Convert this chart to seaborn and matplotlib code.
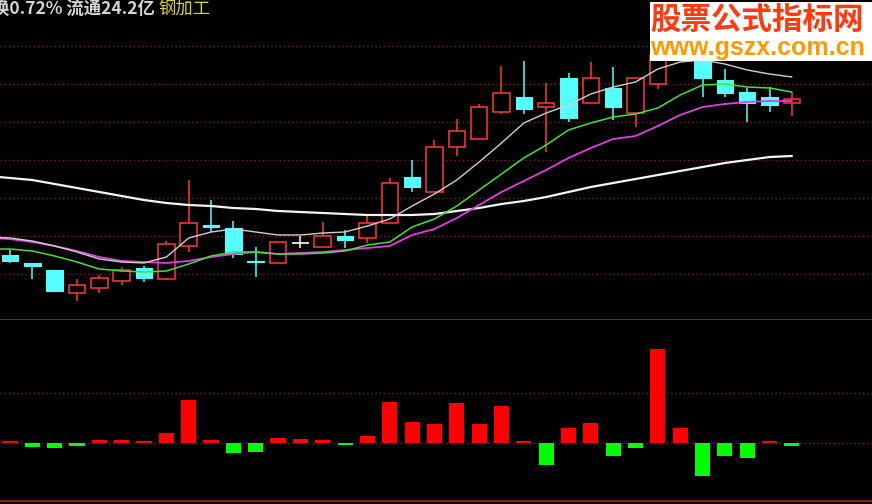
import numpy as np
import pandas as pd
import matplotlib
matplotlib.use("Agg")
import matplotlib.pyplot as plt
from matplotlib.patches import Rectangle
import seaborn as sns

# ---------------- data ----------------
opens  = [7.5, 6.7, 6.0, 3.7, 4.2, 4.9, 6.2, 5.1, 8.4, 10.5, 10.2, 6.9, 6.7, 8.7, 8.3, 9.4, 9.2, 10.7,
          15.3, 13.8, 18.3, 19.1, 21.8, 23.3, 22.3, 25.2, 22.7, 24.2, 21.7, 24.6, 27.2, 27.2, 25.0, 23.8, 23.3, 22.7]
closes = [6.9, 6.4, 3.9, 4.5, 5.2, 6.0, 5.2, 8.6, 10.7, 10.3, 7.6, 6.8, 8.8, 8.7, 9.4, 9.0, 10.7, 14.7,
          14.3, 18.3, 19.9, 22.3, 23.7, 22.1, 22.7, 21.2, 25.2, 22.3, 25.2, 27.5, 29.0, 25.2, 23.7, 22.7, 22.5, 23.1]
highs  = [8.0, 6.7, 6.0, 5.1, 5.5, 6.3, 6.4, 8.9, 15.0, 13.0, 10.9, 8.3, 8.8, 9.4, 10.8, 10.0, 11.6, 15.2,
          17.0, 19.0, 21.1, 22.6, 26.4, 26.9, 24.7, 25.7, 26.8, 26.3, 25.2, 28.5, 30.0, 27.8, 26.1, 24.2, 24.3, 23.8]
lows   = [6.7, 5.1, 3.8, 2.9, 3.7, 4.5, 4.8, 5.0, 7.8, 9.8, 7.2, 5.3, 6.7, 8.2, 8.3, 8.2, 8.7, 10.7,
          13.8, 13.8, 17.4, 19.1, 21.6, 21.6, 17.8, 20.8, 22.7, 21.0, 20.3, 24.1, 27.0, 23.3, 23.3, 20.8, 21.8, 21.4]

# moving averages, first point is the day before the first visible candle
ma5  = [9.3, 9.2, 8.9, 8.4, 7.8, 7.1, 6.8, 6.7, 7.3, 9.2, 9.8, 10.1, 9.8, 9.5, 9.5, 9.7, 9.8, 10.4, 11.1,
        12.4, 13.6, 15.0, 16.8, 18.7, 20.7, 21.7, 22.5, 23.6, 24.3, 24.8, 26.1, 26.8, 27.0, 26.6, 26.0, 25.6, 25.3]
ma10 = [8.1, 8.1, 7.9, 7.4, 6.8, 6.1, 5.9, 5.8, 5.9, 6.6, 7.4, 7.8, 7.8, 7.6, 7.6, 7.7, 7.9, 8.5, 8.8,
        10.3, 11.1, 12.4, 14.0, 15.6, 17.2, 18.5, 20.0, 20.7, 21.3, 21.6, 22.2, 23.5, 24.5, 24.6, 24.3, 24.2, 23.8]
ma20 = [9.2, 9.1, 8.8, 8.4, 7.9, 7.3, 6.9, 6.8, 6.7, 6.9, 7.3, 7.6, 7.8, 7.6, 7.7, 7.8, 8.0, 8.2, 8.4,
        9.5, 10.1, 11.2, 12.5, 13.8, 14.9, 16.0, 17.2, 18.2, 19.1, 19.4, 20.4, 21.5, 22.3, 22.6, 22.8, 22.9, 22.9]
ma60 = [15.4, 15.2, 15.0, 14.6, 14.2, 13.8, 13.4, 13.0, 12.7, 12.5, 12.4, 12.2, 12.1, 11.9, 11.8, 11.7, 11.6,
        11.5, 11.5, 11.5, 11.6, 11.9, 12.2, 12.6, 12.9, 13.3, 13.8, 14.3, 14.7, 15.1, 15.5, 15.9, 16.3, 16.7,
        17.0, 17.3, 17.4]

# lower indicator bars
ind = [2, -4, -5, -2.5, 3, 3, 2, 10, 43, 3, -10, -9, 5, 4, 3, -1.5, 7, 41, 21, 19,
       40, 19, 37, 2, -22, 15, 20, -13, -5, 94, 15, -33, -13, -15, 2, -2.5]

price_grid = [5.6, 9.4, 13.2, 17.0, 20.8, 24.6, 28.4]
ind_grid = [0, 50]

header_white = "换0.72% 流通24.2亿 "
header_yellow = "钢加工"
wm_cn = "股票公式指标网"
wm_url = "www.gszx.com.cn"

# ---------------- style ----------------
sns.set_style("dark", rc={"axes.facecolor": "black", "figure.facecolor": "black"})
plt.rcParams["font.family"] = ["Noto Sans CJK SC", "DejaVu Sans"]

W, H = 872, 504
fig = plt.figure(figsize=(W / 100, H / 100), dpi=100, facecolor="black")
ax1 = fig.add_axes([0, 184 / H, 1, 320 / H])
ax2 = fig.add_axes([0, 3 / H, 1, 181 / H])

n = len(opens)
idx = np.arange(n)
xlim = (-10 / 22.34, (W - 10) / 22.34)

RED = "#ff3a3a"
CYAN = "#55ffff"
GRID = "#8a1c1c"

for ax in (ax1, ax2):
    ax.set_facecolor("black")
    ax.set_xlim(*xlim)
    ax.set_xticks([])
    ax.set_yticks([])
    for s in ax.spines.values():
        s.set_visible(False)
    ax.grid(False)

ax1.set_ylim(1, 33)
for g in price_grid:
    ax1.axhline(g, color=GRID, lw=1, ls=(0, (1, 2)), zorder=0)
ax1.spines["bottom"].set_visible(True)
ax1.spines["bottom"].set_color("#b01c1c")
ax1.spines["bottom"].set_linewidth(1.2)

# candles
bw = 0.74
for i in range(n):
    o, c, h, l = opens[i], closes[i], highs[i], lows[i]
    top, bot = max(o, c), min(o, c)
    if c > o:
        ax1.vlines(i, top, h, color=RED, lw=1.1, zorder=2)
        ax1.vlines(i, l, bot, color=RED, lw=1.1, zorder=2)
        ax1.add_patch(Rectangle((i - bw / 2, bot), bw, top - bot, facecolor="black",
                                edgecolor=RED, lw=1.1, zorder=2))
    elif c < o:
        ax1.vlines(i, l, h, color=CYAN, lw=1.1, zorder=2)
        ax1.add_patch(Rectangle((i - bw / 2, bot), bw, top - bot, facecolor=CYAN,
                                edgecolor=CYAN, lw=0.8, zorder=2))
    else:
        ax1.vlines(i, l, h, color="white", lw=1.1, zorder=2)
        ax1.hlines(o, i - bw / 2, i + bw / 2, color="white", lw=1.2, zorder=2)

ma_x = np.arange(-1, n)
ma_df = pd.DataFrame({"x": ma_x, "ma5": ma5, "ma10": ma10, "ma20": ma20, "ma60": ma60})
sns.lineplot(data=ma_df, x="x", y="ma60", color="#f4f4f4", lw=1.6, ax=ax1, estimator=None, zorder=3)
sns.lineplot(data=ma_df, x="x", y="ma20", color="#e040e0", lw=1.3, ax=ax1, estimator=None, zorder=3)
sns.lineplot(data=ma_df, x="x", y="ma10", color="#44e044", lw=1.1, ax=ax1, estimator=None, zorder=3)
sns.lineplot(data=ma_df, x="x", y="ma5", color="#d0d0d0", lw=1.0, ax=ax1, estimator=None, zorder=3)
ax1.set_xlabel("")
ax1.set_ylabel("")
ax1.set_xlim(*xlim)
ax1.set_ylim(1, 33)

# lower panel
ax2.set_ylim(-58, 123)
for g in ind_grid:
    ax2.axhline(g, color=GRID, lw=1, ls=(0, (1, 2)), zorder=0)
bar_df = pd.DataFrame({"x": idx, "v": ind, "dir": ["up" if v > 0 else "down" for v in ind]})
sns.barplot(data=bar_df, x="x", y="v", hue="dir", palette={"up": "#ff0000", "down": "#00ff00"},
            native_scale=True, dodge=False, width=0.68, errorbar=None, saturation=1,
            legend=False, ax=ax2, zorder=2)
for p in ax2.patches:
    p.set_linewidth(0)
ax2.set_xlabel("")
ax2.set_ylabel("")
ax2.set_xticks([])
ax2.set_yticks([])
ax2.set_xlim(*xlim)
ax2.set_ylim(-58, 123)
ax2.spines["bottom"].set_visible(True)
ax2.spines["bottom"].set_color("#b01c1c")
ax2.spines["bottom"].set_linewidth(1.2)

# header text (the first character is clipped by the left edge, as in the reference)
t1 = fig.text(-8 / W, 1 - 9 / H, header_white, color="#d4d4d4", fontsize=12.5,
              fontweight="bold", va="center", ha="left")
fig.canvas.draw()
bb = t1.get_window_extent()
fig.text(bb.x1 / W, 1 - 9 / H, header_yellow, color="#d8d040", fontsize=12.5,
         va="center", ha="left")

# watermark
fig.patches.append(Rectangle((650 / W, 1 - 61 / H), 222 / W, 59 / H, transform=fig.transFigure,
                             facecolor="white", edgecolor="none", zorder=10))
fig.text(757 / W, 1 - 21 / H, wm_cn, color="#ff3a10", fontsize=22, fontweight="bold",
         ha="center", va="center", zorder=11)
fig.text(757 / W, 1 - 48 / H, wm_url, color="#ff9a00", fontsize=18, fontweight="bold",
         family=["Liberation Sans", "DejaVu Sans"], ha="center", va="center", zorder=11)

fig.savefig("out.png", dpi=100, facecolor="black")
